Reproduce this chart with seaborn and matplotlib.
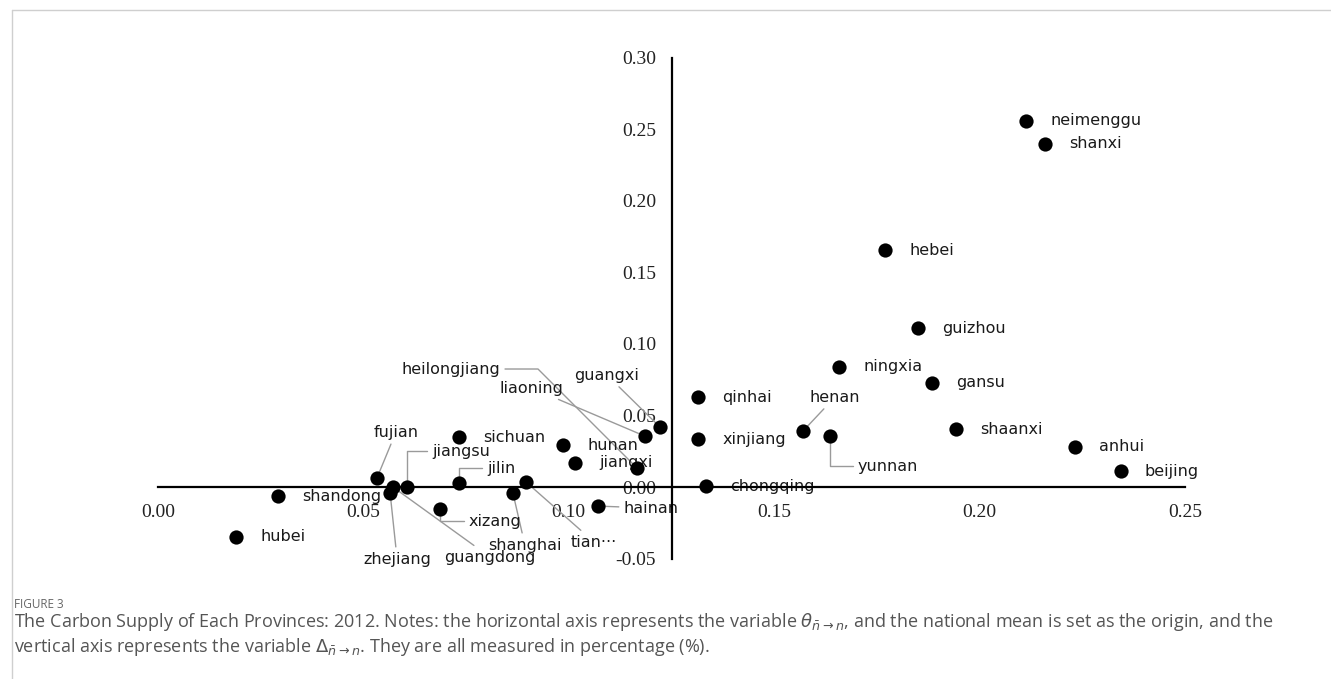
import matplotlib
matplotlib.use("Agg")
import matplotlib.pyplot as plt
import seaborn as sns
import pandas as pd
from matplotlib.lines import Line2D

# Province coordinates: theta (horizontal) and delta (vertical), 2012
provinces = ["neimenggu", "shanxi", "hebei", "guizhou", "ningxia", "gansu",
             "shaanxi", "anhui", "beijing", "qinhai", "xinjiang", "chongqing",
             "henan", "yunnan", "heilongjiang", "liaoning", "guangxi", "sichuan",
             "hunan", "jiangxi", "jilin", "shanghai", "tian···", "hainan",
             "xizang", "fujian", "jiangsu", "zhejiang", "guangdong", "shandong",
             "hubei"]
theta = [0.2113, 0.2159, 0.1770, 0.1850, 0.1658, 0.1884,
         0.1943, 0.2232, 0.2344, 0.1315, 0.1315, 0.1334,
         0.1570, 0.1636, 0.1166, 0.1185, 0.1222, 0.0733,
         0.0986, 0.1015, 0.0733, 0.0864, 0.0896, 0.1071,
         0.0686, 0.0533, 0.0606, 0.0565, 0.0572, 0.0292,
         0.0190]
delta = [0.2558, 0.2397, 0.1656, 0.1111, 0.0839, 0.0727,
         0.0405, 0.0280, 0.0112, 0.0629, 0.0335, 0.0007,
         0.0391, 0.0356, 0.0133, 0.0356, 0.0419, 0.0349,
         0.0293, 0.0168, 0.0028, -0.0042, 0.0035, -0.0133,
         -0.0154, 0.0063, 0.0000, -0.0042, 0.0000, -0.0063,
         -0.0349]

x_ticks = [0.00, 0.05, 0.10, 0.15, 0.20, 0.25]
y_ticks = [-0.05, 0.00, 0.05, 0.10, 0.15, 0.20, 0.25, 0.30]
origin_x = 0.125  # national mean on the horizontal axis

caption_head = "FIGURE 3"
caption_lines = [
    r"The Carbon Supply of Each Provinces: 2012. Notes: the horizontal axis represents the variable $\theta_{\bar{n}\rightarrow n}$, and the national mean is set as the origin, and the",
    r"vertical axis represents the variable $\Delta_{\bar{n}\rightarrow n}$. They are all measured in percentage (%).",
]

# Leader-line labels: text centre offset from the point (pixels, y down) and connector style
leaders = {
    "heilongjiang": (-186, -99, "angle,angleA=0,angleB=-45,rad=0"),
    "liaoning": (-113, -48, "arc3,rad=0"),
    "guangxi": (-53, -52, "arc3,rad=0"),
    "fujian": (19, -46, "arc3,rad=0"),
    "jiangsu": (54, -36, "angle,angleA=0,angleB=90,rad=0"),
    "jilin": (42, -15, "angle,angleA=0,angleB=90,rad=0"),
    "xizang": (55, 12, "angle,angleA=0,angleB=90,rad=0"),
    "zhejiang": (7, 66, "arc3,rad=0"),
    "guangdong": (97, 70, "arc3,rad=0"),
    "shanghai": (12, 52, "arc3,rad=0"),
    "tian···": (68, 60, "arc3,rad=0"),
    "henan": (32, -34, "arc3,rad=0"),
    "yunnan": (58, 30, "angle,angleA=0,angleB=90,rad=0"),
    "hainan": (53, 2, "arc3,rad=0"),
}

df = pd.DataFrame({"province": provinces, "theta": theta, "delta": delta})

sns.set_style("white")
plt.rcParams["font.family"] = ["DejaVu Sans"]
plt.rcParams["mathtext.fontset"] = "dejavusans"

W, H = 1331, 679
fig = plt.figure(figsize=(W / 100, H / 100), dpi=100)
ax = fig.add_axes([158 / W, (H - 558.6) / H, 1027 / W, (558.6 - 57.7) / H])

sns.scatterplot(data=df, x="theta", y="delta", color="black", s=105,
                linewidth=0, ax=ax, zorder=4, clip_on=False, legend=False)

ax.set_xlim(0, 0.25)
ax.set_ylim(-0.05, 0.30)
ax.set_xlabel("")
ax.set_ylabel("")

# Crossing axes: vertical through the national mean, horizontal through zero
for side in ("top", "right"):
    ax.spines[side].set_visible(False)
ax.spines["left"].set_position(("data", origin_x))
ax.spines["bottom"].set_position(("data", 0.0))
ax.spines["left"].set_bounds(-0.05, 0.30)
ax.spines["bottom"].set_bounds(0.0, 0.25)
for side in ("left", "bottom"):
    ax.spines[side].set_color("black")
    ax.spines[side].set_linewidth(1.6)
    ax.spines[side].set_zorder(3.5)

ax.set_xticks(x_ticks)
ax.set_xticklabels([f"{v:.2f}" for v in x_ticks])
ax.set_yticks(y_ticks)
ax.set_yticklabels([f"{v:.2f}" for v in y_ticks])
for lbl in ax.get_xticklabels() + ax.get_yticklabels():
    lbl.set_fontfamily("Liberation Serif")
    lbl.set_fontsize(14)
    lbl.set_color("#222222")
ax.tick_params(axis="x", length=0, pad=12)
ax.tick_params(axis="y", length=0, pad=11)
ax.grid(False)

label_font = dict(family="DejaVu Sans", size=11.5, color="#1a1a1a")
px = 0.72  # points per pixel at 100 dpi
for name, x, y in zip(provinces, theta, delta):
    if name in leaders:
        dx, dy, conn = leaders[name]
        ax.annotate(name, xy=(x, y), xytext=(dx * px, -dy * px),
                    textcoords="offset points", ha="center", va="center",
                    annotation_clip=False, zorder=3, **label_font,
                    arrowprops=dict(arrowstyle="-", color="#9a9a9a", lw=1.0,
                                    shrinkA=1, shrinkB=0, connectionstyle=conn))
    else:
        ax.annotate(name, xy=(x, y), xytext=(24 * px, 0),
                    textcoords="offset points", ha="left", va="center",
                    annotation_clip=False, zorder=3, **label_font)

# Panel frame and caption
fig.add_artist(Line2D([12 / W, 1.0], [(H - 10) / H, (H - 10) / H],
                      transform=fig.transFigure, color="#cfcfcf", lw=1.0))
fig.add_artist(Line2D([12 / W, 12 / W], [(H - 10) / H, 0.0],
                      transform=fig.transFigure, color="#cfcfcf", lw=1.0))
fig.text(14 / W, (H - 604) / H, caption_head, family="Open Sans", size=8.5,
         color="#666666", va="center", ha="left")
for i, line in enumerate(caption_lines):
    fig.text(14 / W, (H - 622 - 25 * i) / H, line, family="Open Sans",
             size=13, color="#555555", va="center", ha="left")

fig.savefig("out.png", dpi=100)
